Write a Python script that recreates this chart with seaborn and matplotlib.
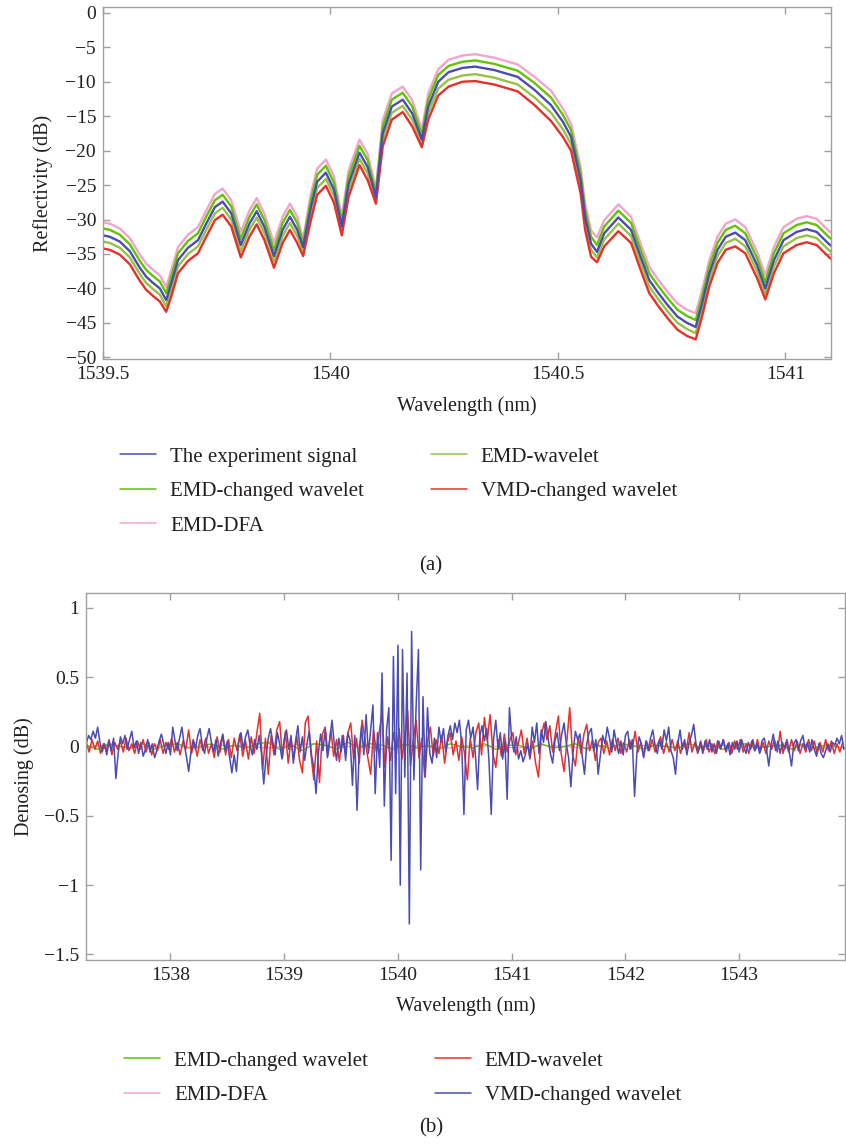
import numpy as np
import pandas as pd
import matplotlib
matplotlib.use("Agg")
import matplotlib.pyplot as plt
from matplotlib.lines import Line2D
import seaborn as sns

sns.set_style("ticks")
plt.rcParams["font.family"] = ["Liberation Serif", "DejaVu Serif"]

# ==============================
# (a) reflectivity spectra
# ==============================
wl_a = [1539.500, 1539.515, 1539.537, 1539.559, 1539.581, 1539.595, 1539.610, 1539.625, 1539.639, 1539.650,
        1539.665, 1539.687, 1539.709, 1539.727, 1539.746, 1539.763, 1539.782, 1539.803, 1539.822, 1539.838,
        1539.855, 1539.876, 1539.895, 1539.911, 1539.927, 1539.940, 1539.957, 1539.971, 1539.990, 1540.008,
        1540.025, 1540.040, 1540.064, 1540.082, 1540.100, 1540.115, 1540.135, 1540.159, 1540.180, 1540.201,
        1540.215, 1540.237, 1540.260, 1540.290, 1540.318, 1540.360, 1540.412, 1540.449, 1540.485, 1540.511,
        1540.529, 1540.550, 1540.560, 1540.573, 1540.586, 1540.602, 1540.633, 1540.661, 1540.683, 1540.701,
        1540.719, 1540.741, 1540.763, 1540.784, 1540.803, 1540.817, 1540.833, 1540.851, 1540.869, 1540.890,
        1540.912, 1540.938, 1540.956, 1540.975, 1540.996, 1541.025, 1541.047, 1541.069, 1541.095, 1541.110]

experiment = [-32.3, -32.5, -33.2, -34.6, -37.0, -38.3, -39.2, -40.0, -41.7, -39.3,
              -35.9, -34.1, -33.0, -30.6, -28.2, -27.4, -29.1, -33.7, -30.6, -28.8,
              -31.1, -35.3, -31.5, -29.6, -31.5, -34.0, -28.2, -24.5, -23.2, -25.7,
              -31.0, -24.8, -20.3, -22.4, -26.7, -17.5, -13.6, -12.6, -14.6, -18.4,
              -13.6, -10.0, -8.6, -8.0, -7.8, -8.3, -9.3, -11.2, -13.4, -15.8,
              -18.0, -24.3, -29.6, -33.5, -34.7, -32.0, -29.7, -31.5, -35.6, -38.8,
              -40.5, -42.4, -44.1, -45.0, -45.6, -42.2, -37.8, -34.4, -32.5, -31.9,
              -33.0, -36.6, -40.0, -35.9, -33.0, -31.8, -31.4, -31.8, -33.5, -34.3]

emd_dfa = [-30.4, -30.6, -31.3, -32.7, -35.1, -36.4, -37.3, -38.1, -39.8, -37.4,
           -34.0, -32.2, -31.1, -28.7, -26.3, -25.5, -27.2, -31.8, -28.7, -26.9,
           -29.2, -33.4, -29.6, -27.7, -29.6, -32.8, -26.3, -22.6, -21.3, -23.8,
           -29.6, -22.9, -18.4, -20.5, -25.5, -15.6, -11.7, -10.7, -12.7, -17.0,
           -11.7, -8.2, -6.8, -6.2, -6.0, -6.5, -7.5, -9.3, -11.3, -13.9,
           -16.1, -22.4, -27.7, -31.6, -32.6, -30.1, -27.8, -29.6, -33.7, -36.9,
           -38.6, -40.5, -42.2, -43.1, -43.6, -40.3, -35.9, -32.5, -30.6, -30.0,
           -31.1, -34.7, -38.1, -34.0, -31.1, -29.9, -29.5, -29.9, -31.6, -32.4]

emd_changed = [-31.3, -31.5, -32.2, -33.6, -36.0, -37.3, -38.2, -39.0, -40.7, -38.3,
               -34.9, -33.1, -32.0, -29.6, -27.2, -26.4, -28.1, -32.8, -29.6, -27.8,
               -30.1, -34.4, -30.5, -28.6, -30.5, -33.4, -27.2, -23.5, -22.2, -24.7,
               -30.3, -23.8, -19.3, -21.4, -26.1, -16.5, -12.6, -11.6, -13.6, -17.7,
               -12.6, -9.0, -7.7, -7.1, -6.9, -7.4, -8.4, -10.2, -12.3, -14.8,
               -17.0, -23.3, -28.6, -32.5, -33.7, -31.0, -28.7, -30.5, -34.6, -37.8,
               -39.5, -41.4, -43.1, -44.0, -44.6, -41.2, -36.8, -33.4, -31.5, -30.9,
               -32.0, -35.6, -39.1, -34.9, -32.0, -30.8, -30.4, -30.8, -32.5, -33.3]

emd_wavelet = [-33.2, -33.4, -34.1, -35.5, -37.9, -39.2, -40.1, -40.9, -42.6, -40.2,
               -36.8, -35.0, -33.9, -31.5, -29.1, -28.3, -30.0, -34.6, -31.5, -29.7,
               -32.0, -36.1, -32.4, -30.5, -32.4, -34.5, -29.1, -25.4, -24.1, -26.6,
               -31.6, -25.7, -21.2, -23.3, -27.2, -18.4, -14.5, -13.5, -15.5, -18.9,
               -14.5, -11.0, -9.7, -9.1, -8.9, -9.4, -10.4, -12.3, -14.5, -16.9,
               -19.0, -25.2, -30.5, -34.4, -35.5, -32.9, -30.6, -32.4, -36.5, -39.7,
               -41.4, -43.3, -45.0, -45.9, -46.5, -43.1, -38.7, -35.3, -33.4, -32.8,
               -33.9, -37.5, -40.8, -36.8, -33.9, -32.7, -32.3, -32.7, -34.4, -35.2]

vmd_changed = [-34.2, -34.4, -35.1, -36.5, -38.9, -40.2, -41.1, -41.9, -43.4, -41.2,
               -37.8, -36.0, -34.9, -32.5, -30.1, -29.3, -31.0, -35.5, -32.5, -30.7,
               -33.0, -37.0, -33.4, -31.5, -33.4, -35.3, -30.1, -26.4, -25.1, -27.6,
               -32.3, -26.7, -22.1, -24.3, -27.7, -19.4, -15.5, -14.4, -16.5, -19.5,
               -15.5, -12.0, -10.7, -10.0, -9.9, -10.4, -11.4, -13.4, -15.7, -18.0,
               -20.0, -26.2, -31.5, -35.4, -36.2, -33.9, -31.7, -33.4, -37.5, -40.7,
               -42.4, -44.3, -46.0, -46.9, -47.4, -44.1, -39.7, -36.3, -34.4, -33.9,
               -34.9, -38.5, -41.6, -37.8, -34.9, -33.7, -33.3, -33.7, -35.4, -36.2]

# ==============================
# (b) denoising residuals (evenly sampled)
# ==============================
b_start = 1537.26
blue_step = 0.02
vmd_resid = [0.02, 0.08, 0.05, 0.11, 0.06, 0.14, 0.03, -0.04, 0.02, -0.06,
             0.04, -0.03, 0.06, -0.23, -0.05, 0.07, 0.02, 0.08, -0.02, 0.05,
             0.11, -0.01, 0.04, -0.05, 0.03, -0.07, -0.02, 0.05, -0.04, 0.02,
             -0.08, -0.03, 0.04, 0.09, 0.02, -0.05, 0.03, -0.06, 0.14, 0.04,
             -0.03, 0.06, 0.14, 0.02, -0.07, -0.18, -0.04, 0.05, -0.02, 0.08,
             0.13, 0.01, -0.05, 0.06, 0.13, 0.03, -0.04, 0.05, -0.07, 0.02,
             0.09, -0.03, 0.04, -0.08, -0.19, -0.06, -0.18, 0.03, 0.10, -0.02,
             0.07, 0.12, 0.01, -0.06, 0.05, -0.02, 0.08, -0.05, -0.27, -0.08,
             0.06, 0.13, 0.03, -0.06, 0.10, 0.02, -0.09, 0.05, 0.12, -0.02,
             0.08, -0.12, 0.04, 0.15, -0.04, 0.07, -0.10, 0.02, 0.11, -0.06,
             -0.15, -0.34, -0.05, 0.09, -0.03, 0.12, -0.08, 0.05, 0.19, 0.02,
             -0.10, 0.06, -0.04, 0.08, -0.10, 0.10, 0.04, -0.28, 0.08, -0.46,
             -0.02, 0.15, -0.06, 0.23, -0.05, 0.12, 0.30, -0.34, 0.10, -0.15,
             0.53, -0.43, 0.12, 0.28, -0.82, 0.65, -0.34, 0.73, -1.00, 0.70,
             -0.22, 0.53, -1.28, 0.83, -0.24, 0.30, 0.70, -0.89, 0.36, -0.22,
             0.28, -0.05, -0.12, 0.06, -0.08, 0.14, 0.03, 0.13, -0.04, 0.08,
             0.15, 0.05, 0.17, 0.10, 0.19, 0.02, -0.49, 0.12, 0.19, 0.06,
             0.14, -0.05, -0.31, 0.08, 0.15, 0.04, 0.13, -0.10, -0.49, 0.05,
             0.19, -0.02, 0.10, -0.09, 0.04, -0.38, 0.28, 0.05, -0.04, 0.07,
             -0.09, -0.03, -0.11, -0.06, 0.02, -0.08, 0.14, 0.03, 0.17, -0.05,
             0.12, 0.03, 0.18, 0.06, -0.05, -0.12, 0.04, 0.10, -0.03, 0.09,
             0.17, 0.02, -0.08, -0.29, -0.04, 0.11, 0.05, 0.09, -0.07, -0.20,
             0.02, 0.10, 0.13, -0.03, 0.05, -0.20, -0.06, 0.08, 0.02, 0.14,
             0.06, -0.04, 0.12, 0.03, -0.05, 0.04, -0.06, 0.08, 0.11, -0.02,
             0.05, -0.36, -0.05, 0.07, 0.02, -0.08, 0.04, -0.03, 0.06, 0.12,
             0.01, -0.05, 0.05, -0.02, 0.12, 0.04, 0.14, -0.03, -0.08, -0.20,
             0.02, 0.12, -0.02, 0.05, -0.06, 0.03, 0.08, 0.16, 0.02, -0.04,
             0.03, -0.05, 0.04, -0.02, 0.05, -0.04, 0.02, -0.05, 0.04, -0.01,
             0.05, -0.03, 0.02, -0.06, 0.03, -0.02, 0.04, -0.04, 0.05, 0.00,
             -0.05, 0.03, -0.02, 0.05, -0.03, 0.02, -0.05, 0.04, 0.06, -0.02,
             -0.14, 0.01, 0.09, -0.03, 0.04, -0.05, 0.03, -0.02, 0.05, -0.04,
             -0.14, 0.02, 0.05, -0.03, 0.04, 0.08, -0.02, 0.03, -0.04, 0.05,
             -0.02, -0.07, 0.02, -0.05, -0.08, -0.03, 0.02, -0.04, 0.03, 0.01,
             0.06, 0.02, 0.08, -0.02]

red_step = 0.025
emdw_resid = [0.03, -0.04, 0.05, -0.02, 0.04, -0.05, 0.02, -0.03, 0.05, -0.06,
              0.03, -0.02, 0.04, -0.04, 0.06, -0.03, 0.02, -0.05, 0.04, -0.02,
              0.05, -0.04, 0.03, -0.06, 0.02, -0.03, 0.05, -0.05, 0.03, -0.02,
              0.06, -0.04, 0.03, -0.06, 0.04, -0.02, 0.12, -0.05, 0.03, -0.07,
              0.05, -0.03, 0.06, -0.05, 0.02, -0.08, 0.07, -0.04, 0.08, -0.06,
              0.05, -0.08, 0.06, -0.03, 0.09, -0.07, 0.04, -0.09, 0.07, -0.05,
              0.10, 0.24, -0.17, 0.06, -0.20, 0.08, -0.06, 0.12, 0.18, -0.08,
              0.11, -0.12, 0.05, -0.09, 0.08, -0.10, -0.19, 0.17, 0.22, -0.05,
              -0.24, 0.04, -0.26, 0.09, 0.14, -0.06, 0.12, -0.07, 0.05, -0.11,
              0.08, -0.04, 0.10, 0.17, -0.09, 0.06, -0.12, 0.19, 0.05, -0.08,
              -0.20, 0.12, -0.04, 0.10, 0.24, -0.15, 0.07, -0.10, 0.10, -0.06,
              0.13, -0.09, 0.08, 0.26, -0.14, 0.05, 0.19, -0.08, 0.06, -0.22,
              0.04, 0.14, -0.07, 0.05, -0.05, 0.08, -0.12, 0.03, 0.10, -0.06,
              0.04, -0.10, 0.07, -0.05, -0.24, 0.06, -0.08, 0.10, 0.17, -0.06,
              0.21, 0.04, 0.23, -0.05, -0.15, 0.05, -0.07, 0.09, -0.04, 0.05,
              0.10, -0.06, 0.03, 0.12, -0.05, 0.06, -0.09, 0.04, -0.12, -0.22,
              0.08, 0.17, 0.05, 0.15, -0.04, 0.10, 0.22, -0.05, -0.18, 0.04,
              0.28, -0.06, -0.14, 0.07, -0.05, 0.09, 0.16, -0.03, 0.05, -0.10,
              0.03, 0.06, -0.05, 0.04, -0.06, 0.05, -0.03, 0.06, -0.05, 0.03,
              -0.04, 0.05, -0.02, 0.11, -0.04, 0.03, -0.07, 0.04, -0.03, 0.05,
              -0.04, 0.02, 0.07, -0.05, 0.03, -0.04, 0.05, -0.03, 0.04, -0.05,
              0.03, -0.02, 0.10, -0.04, 0.03, -0.05, 0.04, -0.03, 0.05, -0.04,
              0.02, -0.05, 0.04, -0.02, 0.05, -0.04, 0.03, -0.05, 0.04, -0.02,
              0.05, -0.04, 0.02, -0.05, 0.04, -0.03, 0.05, -0.04, 0.03, -0.05,
              0.04, -0.02, 0.05, -0.04, 0.11, -0.05, 0.03, -0.04, 0.05, -0.03,
              0.04, -0.05, 0.02, -0.04, 0.05, -0.03, 0.04, -0.05, 0.03, -0.04,
              0.05, -0.03, 0.04, -0.05, 0.02, -0.04, 0.03]

green_step = 0.1
emdc_resid = [0.01, -0.02, 0.02, 0.00, -0.01, 0.02, -0.02, 0.01, 0.02, -0.01,
              0.00, 0.02, -0.02, 0.01, -0.01, 0.02, 0.03, -0.02, 0.01, -0.03,
              0.02, 0.01, -0.02, 0.03, -0.01, 0.02, 0.01, -0.02, 0.02, -0.01,
              0.01, -0.02, 0.02, 0.00, -0.01, 0.02, -0.02, 0.01, 0.01, -0.02,
              0.02, -0.01, 0.00, 0.02, -0.02, 0.01, -0.01, 0.02, 0.01, -0.02,
              0.01, 0.00, -0.01, 0.02, -0.01, 0.01, -0.02, 0.01, 0.02, -0.01,
              0.00, 0.01, -0.02, 0.02, -0.01, 0.01, 0.00]

pink_step = 0.2
dfa_resid = [0.00, 0.01, -0.01, 0.01, 0.00, -0.01, 0.01, 0.00, -0.01, 0.01,
             0.02, -0.01, 0.01, -0.02, 0.01, 0.00, -0.01, 0.01, 0.00, -0.01,
             0.01, 0.00, -0.01, 0.01, 0.00, 0.01, -0.01, 0.00, 0.01, -0.01,
             0.00, 0.01, -0.01, 0.00]

c_blue = "#4b4bb4"
c_green = "#62c400"
c_pink = "#f4a4cc"
c_olive = "#95c245"
c_red = "#e8302a"
frame = "#a0a0a0"
txt = "#231f20"


def style_axes(ax):
    for s in ax.spines.values():
        s.set_color(frame)
        s.set_linewidth(1.0)
        s.set_visible(True)
    ax.tick_params(direction="in", top=True, right=True, length=5, width=1,
                   color=frame, labelcolor=txt, labelsize=14, pad=5)
    ax.set_xlabel("Wavelength (nm)", fontsize=14.5, color=txt, labelpad=9)


fig = plt.figure(figsize=(8.46, 11.47), dpi=100)

# ---------- top panel ----------
ax1 = fig.add_axes([0.1217, 0.6867, 0.8603, 0.3075])
for vals, col in [(emd_dfa, c_pink), (emd_changed, c_green), (emd_wavelet, c_olive),
                  (vmd_changed, c_red), (experiment, c_blue)]:
    sns.lineplot(x=wl_a, y=vals, color=col, lw=1.7, ax=ax1)
ax1.set_xlim(1539.5, 1541.1)
ax1.set_ylim(-50.3, 0.9)
ax1.set_xticks([1539.5, 1540, 1540.5, 1541])
ax1.set_xticklabels(["1539.5", "1540", "1540.5", "1541"])
ax1.set_yticks([0, -5, -10, -15, -20, -25, -30, -35, -40, -45, -50])
ax1.set_yticklabels(["0", "\u22125", "\u221210", "\u221215", "\u221220", "\u221225",
                     "\u221230", "\u221235", "\u221240", "\u221245", "\u221250"])
style_axes(ax1)
ax1.set_ylabel("Reflectivity (dB)", fontsize=14.5, color=txt, labelpad=9)

h_a = [Line2D([], [], color=c_blue, lw=1.1), Line2D([], [], color=c_green, lw=1.1),
       Line2D([], [], color=c_pink, lw=1.1), Line2D([], [], color=c_olive, lw=1.1),
       Line2D([], [], color=c_red, lw=1.1)]
l_a = ["The experiment signal", "EMD-changed wavelet", "EMD-DFA", "EMD-wavelet", "VMD-changed wavelet"]
fig.legend(h_a, l_a, loc="upper left", bbox_to_anchor=(120 / 846, 1 - 447 / 1147),
           ncol=2, frameon=False, fontsize=15, handlelength=1.75, handletextpad=0.65,
           columnspacing=3.2, labelspacing=0.72, borderpad=0, borderaxespad=0,
           labelcolor=txt)
fig.text(431 / 846, 1 - 566 / 1147, "(a)", ha="center", va="center", fontsize=15, color=txt)

# ---------- bottom panel ----------
ax2 = fig.add_axes([0.102, 0.1630, 0.8968, 0.3203])
x_green = b_start + green_step * np.arange(len(emdc_resid))
x_pink = b_start + pink_step * np.arange(len(dfa_resid))
x_red = b_start + red_step * np.arange(len(emdw_resid))
x_blue = b_start + blue_step * np.arange(len(vmd_resid))
sns.lineplot(x=x_pink, y=dfa_resid, color=c_pink, lw=1.0, ax=ax2)
sns.lineplot(x=x_green, y=emdc_resid, color=c_green, lw=1.0, ax=ax2)
sns.lineplot(x=x_red, y=emdw_resid, color=c_red, lw=1.1, ax=ax2)
sns.lineplot(x=x_blue, y=vmd_resid, color=c_blue, lw=1.1, ax=ax2)
ax2.set_xlim(1537.26, 1543.93)
ax2.set_ylim(-1.54, 1.11)
ax2.set_xticks([1538, 1539, 1540, 1541, 1542, 1543])
ax2.set_xticklabels(["1538", "1539", "1540", "1541", "1542", "1543"])
ax2.set_yticks([1, 0.5, 0, -0.5, -1, -1.5])
ax2.set_yticklabels(["1", "0.5", "0", "\u22120.5", "\u22121", "\u22121.5"])
style_axes(ax2)
ax2.set_ylabel("Denosing (dB)", fontsize=14.5, color=txt, labelpad=7)

h_b = [Line2D([], [], color=c_green, lw=1.1), Line2D([], [], color=c_pink, lw=1.1),
       Line2D([], [], color=c_red, lw=1.1), Line2D([], [], color=c_blue, lw=1.1)]
l_b = ["EMD-changed wavelet", "EMD-DFA", "EMD-wavelet", "VMD-changed wavelet"]
fig.legend(h_b, l_b, loc="upper left", bbox_to_anchor=(124 / 846, 1 - 1051 / 1147),
           ncol=2, frameon=False, fontsize=15, handlelength=1.75, handletextpad=0.65,
           columnspacing=3.2, labelspacing=0.72, borderpad=0, borderaxespad=0,
           labelcolor=txt)
fig.text(431 / 846, 1 - 1128 / 1147, "(b)", ha="center", va="center", fontsize=15, color=txt)

plt.savefig("out.png", dpi=100)
plt.close()
